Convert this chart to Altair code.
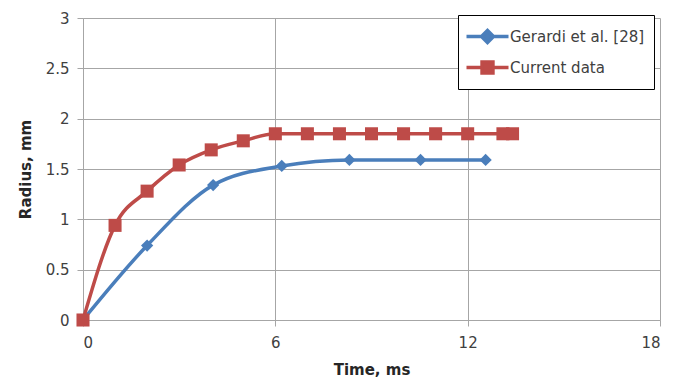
import altair as alt
import pandas as pd

series_names = ["Gerardi et al. [28]", "Current data"]
gerardi_t = [0, 2, 4.06, 6.2, 8.31, 10.53, 12.56]
gerardi_r = [0, 0.74, 1.34, 1.53, 1.59, 1.59, 1.59]
current_t = [0, 1, 2, 3, 4, 5, 6, 7, 8, 9, 10, 11, 12, 13.1, 13.4]
current_r = [0, 0.94, 1.28, 1.54, 1.69, 1.78, 1.85, 1.85, 1.85, 1.85, 1.85, 1.85, 1.85, 1.85, 1.85]
x_ticks = [0, 6, 12, 18]
y_ticks = [0, 0.5, 1, 1.5, 2, 2.5, 3]
colors = ["#4A7EBB", "#BE4B48"]

rows = []
for i, (t, r) in enumerate(zip(gerardi_t, gerardi_r)):
    rows.append({"series": series_names[0], "t": t, "r": r, "order": i})
for i, (t, r) in enumerate(zip(current_t, current_r)):
    rows.append({"series": series_names[1], "t": t, "r": r, "order": i})
df = pd.DataFrame(rows)

FONT = "DejaVu Sans"

x_enc = alt.X("t:Q", scale=alt.Scale(domain=[0, 18], nice=False),
              axis=alt.Axis(values=x_ticks, title="Time, ms", grid=True, format="~g"))
y_enc = alt.Y("r:Q", scale=alt.Scale(domain=[0, 3], nice=False),
              axis=alt.Axis(values=y_ticks, title="Radius, mm", grid=True, format="~g"))

diamond = "M-2,0H-0.57M0.57,0H2M0,-0.57L0.57,0L0,0.57L-0.57,0Z"
square = "M-2,0H-0.52M0.52,0H2M-0.52,-0.52H0.52V0.52H-0.52Z"

color_scale = alt.Scale(domain=series_names, range=colors)

legend_kw = dict(
    title=None, orient="none", legendX=375, legendY=-3,
    direction="vertical",
    fillColor="white", strokeColor="black",
    padding=9, rowPadding=5,
    symbolSize=441, symbolStrokeWidth=3.5,
    symbolOffset=8, labelOffset=10,
    labelFont=FONT, labelFontSize=15, labelColor="#404040",
    cornerRadius=0,
)

layers = []
for name, col, shp, sz in zip(series_names, colors, ["diamond", "square"], [150, 170]):
    base = alt.Chart(df).transform_filter(alt.datum.series == name)
    layers.append(base.mark_line(strokeWidth=3.5, interpolate="monotone", color=col).encode(
        x=x_enc, y=y_enc, order="order:Q"))
    layers.append(base.mark_point(filled=True, opacity=1, shape=shp, size=sz, color=col).encode(
        x="t:Q", y="r:Q"))

legend_layer = alt.Chart(df).transform_filter(alt.datum.t < 0).mark_point(
    opacity=1, size=441, strokeWidth=3.5).encode(
    x="t:Q", y="r:Q",
    fill=alt.Fill("series:N", scale=color_scale, legend=alt.Legend(**legend_kw)),
    stroke=alt.Stroke("series:N", scale=color_scale, legend=alt.Legend(**legend_kw)),
    shape=alt.Shape("series:N", scale=alt.Scale(domain=series_names, range=[diamond, square]),
                    legend=alt.Legend(**legend_kw)),
)
layers.append(legend_layer)

chart = alt.layer(*layers).properties(
    width=577, height=302,
    autosize=alt.AutoSizeParams(type="none"),
    padding={"left": 75, "top": 10, "right": 18, "bottom": 60},
).configure_view(stroke=None).configure_axis(
    gridColor="#A6A6A6", gridWidth=1,
    domainColor="#A6A6A6", domainWidth=1,
    tickColor="#A6A6A6", tickSize=6, tickWidth=1,
    labelFont=FONT, labelFontSize=15, labelColor="#404040",
    titleFont=FONT, titleFontSize=15, titleFontWeight="bold", titleColor="#262626",
).configure_axisX(labelPadding=9, titlePadding=12).configure_axisY(labelPadding=8, titlePadding=12)

chart.save("out.html", embed_options={"renderer": "svg", "actions": False})
